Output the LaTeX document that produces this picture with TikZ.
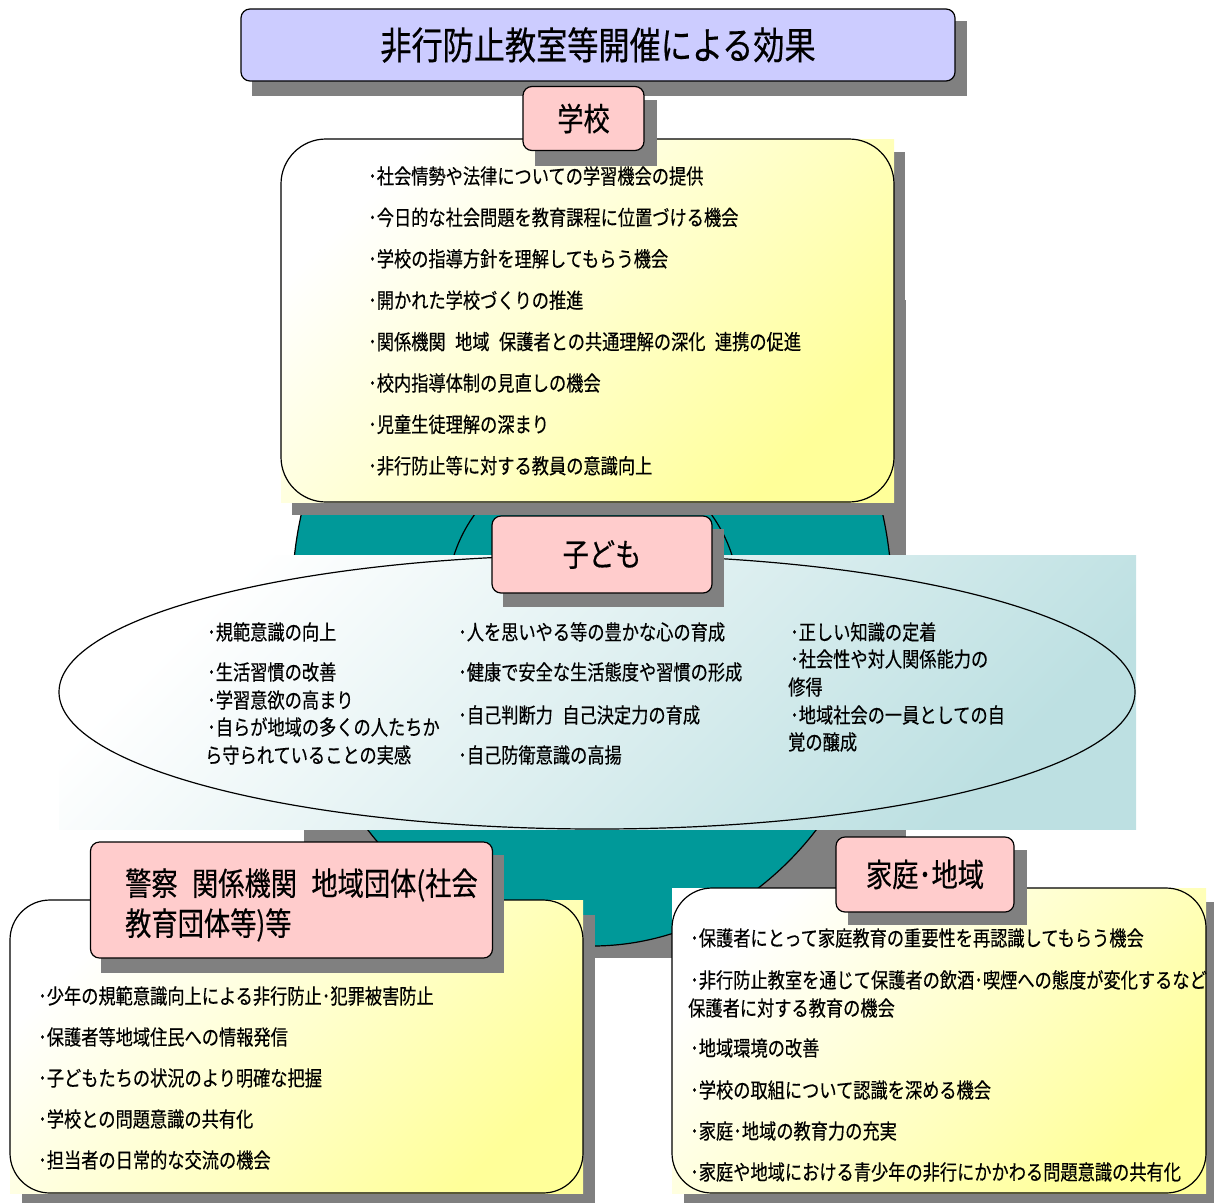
\documentclass[tikz,border=0pt]{standalone}
\usepackage{fontspec}
\newfontfamily\jp[FakeStretch=0.82,FakeBold=0.4]{Noto Sans CJK JP}
\newcommand{\jgap}{\hspace{0.45em}}
\definecolor{lav}{HTML}{CCCCFF}
\definecolor{pinkc}{HTML}{FFCCCC}
\definecolor{tealc}{HTML}{009999}
\definecolor{shd}{HTML}{808080}
\definecolor{yelc}{HTML}{FFFF99}
\definecolor{bluec}{HTML}{BDE0E2}
\begin{document}
\begin{tikzpicture}[x=1pt,y=-1pt,
  outl/.style={draw=black,line width=1.2pt},
  shadowbox/.style={fill=shd},
  titlebox/.style={outl,fill=lav,rounded corners=9pt,inner sep=0pt},
  pinkbox/.style={outl,fill=pinkc,rounded corners=9pt,inner sep=0pt},
  yelfill/.style={shading=axis,top color=white,bottom color=yelc,shading angle=45},
  bluefill/.style={shading=axis,top color=white,bottom color=bluec,shading angle=45},
  item/.style={anchor=west,inner sep=0pt,font=\jp\fontsize{21}{25}\selectfont},
  head/.style={font=\jp\fontsize{32}{40}\selectfont}]
\useasboundingbox (0,0) rectangle (1214,1202);

% title
\fill[shadowbox] (252,21) rectangle (967,96);
\node[titlebox,minimum width=714pt,minimum height=72pt,font=\jp\fontsize{38}{40}\selectfont] (title) at (598,45) {非行防止教室等開催による効果};

% teal background shapes
\fill[shadowbox] (304,300) rectangle (906,958);
\filldraw[outl,fill=tealc] (592,600) ellipse [x radius=300pt, y radius=346pt];
\filldraw[outl,fill=tealc] (593,600) circle [radius=146pt];

% school box
\fill[shadowbox] (292,152) rectangle (905,515);
\shade[yelfill] (281,139) rectangle (894,502);
\draw[outl,rounded corners=45pt] (281,139) rectangle (894,502);
\fill[shadowbox] (535,100) rectangle (657,166);
\node[pinkbox,minimum width=121pt,minimum height=64pt,head] (school) at (583.5,118.5) {学校};
\foreach \t [count=\i] in {
 {･社会情勢や法律についての学習機会の提供},
 {･今日的な社会問題を教育課程に位置づける機会},
 {･学校の指導方針を理解してもらう機会},
 {･開かれた学校づくりの推進},
 {･関係機関\jgap 地域\jgap 保護者との共通理解の深化\jgap 連携の促進},
 {･校内指導体制の見直しの機会},
 {･児童生徒理解の深まり},
 {･非行防止等に対する教員の意識向上}}
 \node[item] (s\i) at (368,{176+(\i-1)*41.4}) {\t};

% child ellipse
\shade[bluefill] (59,555) rectangle (1136,829);
\draw[outl] (597,692) ellipse [x radius=538pt, y radius=137pt];
\fill[shadowbox] (503,529) rectangle (724,607);
\node[pinkbox,minimum width=220pt,minimum height=77pt,head] (child) at (602,554.5) {子ども};
\foreach \yy/\t [count=\i] in {
 632/{･規範意識の向上},
 672/{･生活習慣の改善},
 700/{･学習意欲の高まり},
 727/{･自らが地域の多くの人たちか}}
 \node[item] (ca\i) at (207,\yy) {\t};
\node[item] (ca5) at (205,755) {ら守られていることの実感};
\foreach \yy/\t [count=\i] in {
 632/{･人を思いやる等の豊かな心の育成},
 672/{･健康で安全な生活態度や習慣の形成},
 715/{･自己判断力\jgap 自己決定力の育成},
 755/{･自己防衛意識の高揚}}
 \node[item] (cb\i) at (458,\yy) {\t};
\node[item] (cc1) at (790,632) {･正しい知識の定着};
\node[item] (cc2) at (790,659) {･社会性や対人関係能力の};
\node[item] (cc3) at (788,687) {修得};
\node[item] (cc4) at (790,715) {･地域社会の一員としての自};
\node[item] (cc5) at (788,742) {覚の醸成};

% police box
\fill[shadowbox] (22,915) rectangle (595,1210);
\shade[yelfill] (10,900) rectangle (583,1193);
\draw[outl,rounded corners=40pt] (10,900) rectangle (583,1193);
\fill[shadowbox] (101,855) rectangle (504,973);
\node[pinkbox,minimum width=402pt,minimum height=116pt] (police) at (291.5,900) {};
\node[anchor=west,align=left,inner sep=0pt,font=\jp\fontsize{32}{40}\selectfont] (policet) at (125,905) {警察\jgap 関係機関\jgap 地域団体(社会\\教育団体等)等};
\foreach \t [count=\i] in {
 {･少年の規範意識向上による非行防止･犯罪被害防止},
 {･保護者等地域住民への情報発信},
 {･子どもたちの状況のより明確な把握},
 {･学校との問題意識の共有化},
 {･担当者の日常的な交流の機会}}
 \node[item] (p\i) at (38,{996+(\i-1)*41}) {\t};

% family box
\fill[shadowbox] (684,902) rectangle (1220,1210);
\shade[yelfill] (672,888) rectangle (1206,1193);
\draw[outl,rounded corners=40pt] (672,888) rectangle (1206,1193);
\fill[shadowbox] (848,850) rectangle (1027,925);
\node[pinkbox,minimum width=178pt,minimum height=75pt,head] (family) at (925,874.5) {家庭･地域};
\foreach \yy/\t [count=\i] in {
 938/{･保護者にとって家庭教育の重要性を再認識してもらう機会},
 980/{･非行防止教室を通じて保護者の飲酒･喫煙への態度が変化するなど},
 1048/{･地域環境の改善},
 1090/{･学校の取組について認識を深める機会},
 1131/{･家庭･地域の教育力の充実},
 1172/{･家庭や地域における青少年の非行にかかわる問題意識の共有化}}
 \node[item] (f\i) at (690,\yy) {\t};
\node[item] (f7) at (688,1008) {保護者に対する教育の機会};
\end{tikzpicture}
\end{document}
